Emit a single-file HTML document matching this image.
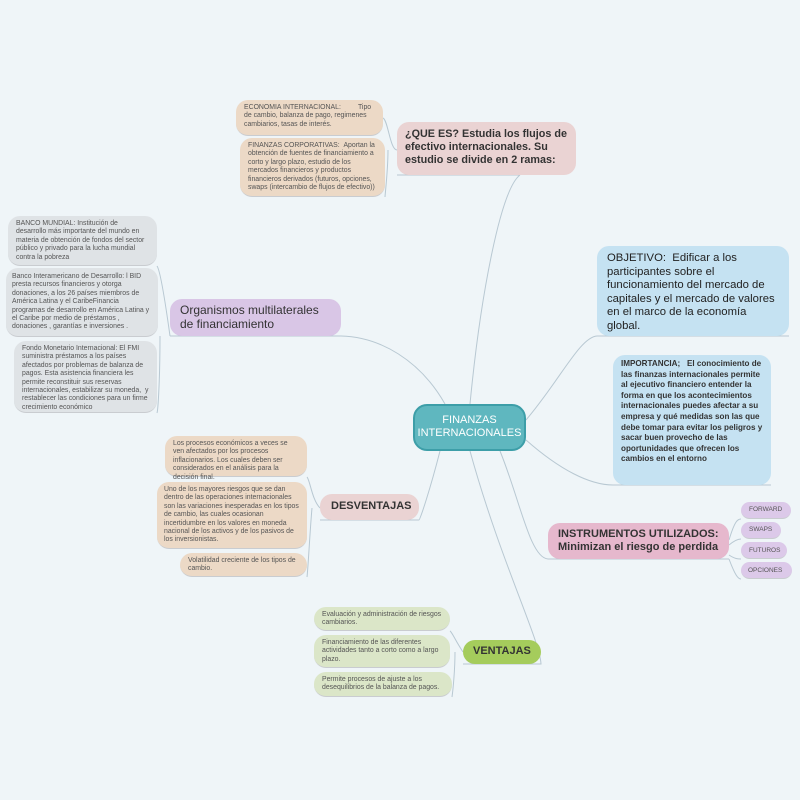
<!DOCTYPE html>
<html><head><meta charset="utf-8"><style>
body{margin:0;width:800px;height:800px;background:#eff5f8;position:relative;overflow:hidden;font-family:"Liberation Sans",sans-serif}
.n{position:absolute;box-sizing:border-box;border-radius:12px;color:#333;}
.s{font-size:6.9px;line-height:8.4px;padding:4px 8px;color:#555;border-bottom:1px solid #c9ccd0}
.b{font-size:11.5px;line-height:13.5px;font-weight:bold;padding:6px 10px;color:#333}
.t{background:#ecd9c6}.g{background:#dfe3e6}.gr{background:#dbe6c8}.p{background:#dcc9e9}
</style></head><body>
<svg width="800" height="800" style="position:absolute;left:0;top:0" fill="none" stroke="#b8c8d2" stroke-width="1">
<path d="M470 404 C480 300,500 190,520 175"/>
<path d="M520 175 L397 175"/>
<path d="M397 150 C390 150,388 120,383 118 M388 150 C388 170,385 195,385 197"/>
<path d="M445 404 C420 360,380 337,341 336 L170 336"/>
<path d="M170 336 C165 300,160 270,157 266 M160 336 C160 380,158 410,157 413"/>
<path d="M526 420 C560 380,580 337,597 336 L789 336"/>
<path d="M526 440 C560 470,590 485,613 485 L771 485"/>
<path d="M500 451 C520 500,530 558,548 559 L729 559"/>
<path d="M729 540 C735 520,738 519,741 519 M729 545 C735 540,738 539,741 539 M729 555 C735 559,738 559,741 559 M729 559 C735 575,738 579,741 579"/>
<path d="M440 451 C430 490,420 520,419 520 L320 520"/>
<path d="M320 508 C312 500,310 480,307 477 M312 508 C310 530,308 570,307 577"/>
<path d="M470 451 C500 560,540 640,541 664 L463 664"/>
<path d="M463 652 C455 640,452 632,450 631 M455 652 C455 670,453 690,452 697"/>
</svg>
<div class="n" style="left:413px;top:404px;width:113px;height:47px;background:#5fb7bf;border:2px solid #3d9ea8;border-radius:14px;color:#fff;font-size:11px;line-height:13px;text-align:center;padding-top:8px">FINANZAS<br>INTERNACIONALES</div>
<div class="n b" style="left:397px;top:122px;width:179px;height:53px;background:#ead3d3;padding:6px 8px;font-size:10.8px;line-height:13px">¿QUE ES? Estudia los flujos de efectivo internacionales. Su estudio se divide en 2 ramas:</div>
<div class="n s t" style="left:236px;top:100px;width:147px;height:36px">ECONOMIA INTERNACIONAL: &nbsp; &nbsp; &nbsp; &nbsp; Tipo de cambio, balanza de pago, regimenes cambiarios, tasas de interés.</div>
<div class="n s t" style="left:240px;top:138px;width:145px;height:59px">FINANZAS CORPORATIVAS: &nbsp;Aportan la obtención de fuentes de financiamiento a corto y largo plazo, estudio de los mercados financieros y productos financieros derivados (futuros, opciones, swaps (intercambio de flujos de efectivo))</div>
<div class="n s g" style="left:8px;top:216px;width:149px;height:50px">BANCO MUNDIAL: Institución de desarrollo más importante del mundo en materia de obtención de fondos del sector público y privado para la lucha mundial contra la pobreza</div>
<div class="n s g" style="left:6px;top:268px;width:152px;height:69px;padding:5px 6px">Banco Interamericano de Desarrollo: l BID presta recursos financieros y otorga donaciones, a los 26 países miembros de América Latina y el CaribeFinancia programas de desarrollo en América Latina y el Caribe por medio de préstamos , donaciones , garantías e inversiones .</div>
<div class="n s g" style="left:14px;top:341px;width:143px;height:72px;padding:4px 6px 4px 8px">Fondo Monetario Internacional: El FMI suministra préstamos a los países afectados por problemas de balanza de pagos. Esta asistencia financiera les permite reconstituir sus reservas internacionales, estabilizar su moneda, &nbsp;y restablecer las condiciones para un firme crecimiento económico</div>
<div class="n b" style="left:170px;top:299px;width:171px;height:37px;background:#d9c6e6;font-weight:normal;font-size:12px;padding-top:5px;color:#333">Organismos multilaterales de financiamiento</div>
<div class="n b" style="left:597px;top:246px;width:192px;height:90px;background:#c5e2f2;font-weight:normal;font-size:11.3px;line-height:13.6px;padding:6px 14px 6px 10px;color:#222">OBJETIVO: &nbsp;Edificar a los participantes sobre el funcionamiento del mercado de capitales y el mercado de valores en el marco de la economía global.</div>
<div class="n" style="left:613px;top:355px;width:158px;height:130px;background:#c5e2f2;font-size:8.1px;line-height:10.6px;font-weight:bold;padding:4px 8px;color:#333">IMPORTANCIA; &nbsp; El conocimiento de las finanzas internacionales permite al ejecutivo financiero entender la forma en que los acontecimientos internacionales puedes afectar a su empresa y qué medidas son las que debe tomar para evitar los peligros y sacar buen provecho de las oportunidades que ofrecen los cambios en el entorno</div>
<div class="n b" style="left:548px;top:523px;width:181px;height:36px;background:#e6b8cd;font-size:11px;line-height:12.5px;padding:5px 10px">INSTRUMENTOS UTILIZADOS: Minimizan el riesgo de perdida</div>
<div class="n s p" style="left:741px;top:502px;width:50px;height:17px;font-size:6.5px;padding:4px 8px">FORWARD</div>
<div class="n s p" style="left:741px;top:522px;width:40px;height:17px;font-size:6.5px;padding:4px 8px">SWAPS</div>
<div class="n s p" style="left:741px;top:542px;width:46px;height:17px;font-size:6.5px;padding:5px 8px">FUTUROS</div>
<div class="n s p" style="left:741px;top:562px;width:51px;height:17px;font-size:6.5px;padding:5px 7px">OPCIONES</div>
<div class="n b" style="left:320px;top:494px;width:99px;height:26px;background:#ead3d3;font-size:11px;padding:6px 11px">DESVENTAJAS</div>
<div class="n s t" style="left:165px;top:436px;width:142px;height:41px">Los procesos económicos a veces se ven afectados por los procesos inflacionarios. Los cuales deben ser considerados en el análisis para la decisión final.</div>
<div class="n s t" style="left:157px;top:482px;width:150px;height:67px;padding:4px 7px">Uno de los mayores riesgos que se dan dentro de las operaciones internacionales son las variaciones inesperadas en los tipos de cambio, las cuales ocasionan incertidumbre en los valores en moneda nacional de los activos y de los pasivos de los inversionistas.</div>
<div class="n s t" style="left:180px;top:553px;width:127px;height:24px">Volatilidad creciente de los tipos de cambio.</div>
<div class="n b" style="left:463px;top:640px;width:78px;height:24px;background:#a5cc5c;font-size:11px;padding:5px 10px">VENTAJAS</div>
<div class="n s gr" style="left:314px;top:607px;width:136px;height:24px">Evaluación y administración de riesgos cambiarios.</div>
<div class="n s gr" style="left:314px;top:635px;width:136px;height:33px">Financiamiento de las diferentes actividades tanto a corto como a largo plazo.</div>
<div class="n s gr" style="left:314px;top:672px;width:138px;height:25px">Permite procesos de ajuste a los desequilibrios de la balanza de pagos.</div>
</body></html>
